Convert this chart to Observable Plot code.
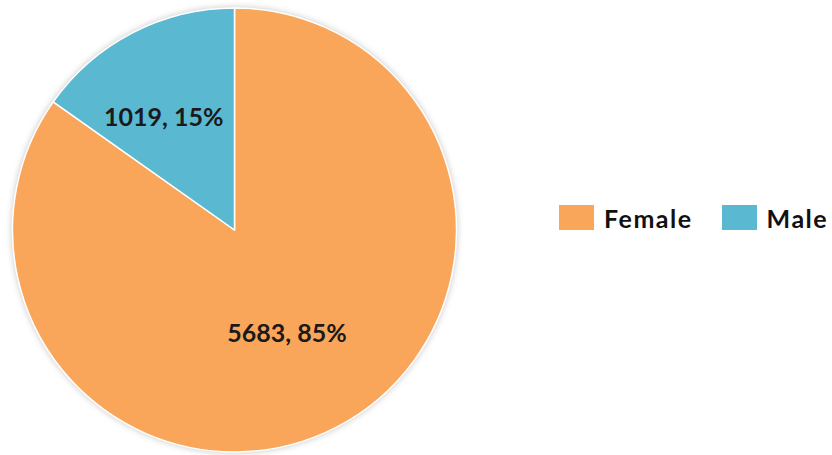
<!DOCTYPE html>
<html>
<head>
<meta charset="utf-8">
<script src="https://cdn.jsdelivr.net/npm/d3@7"></script>
<script src="https://cdn.jsdelivr.net/npm/@observablehq/plot@0.6"></script>
<style>
  html, body { margin: 0; padding: 0; background: #fff; }
  #wrap { position: relative; width: 832px; height: 455px; overflow: hidden; }
  #pie { position: absolute; left: 0; top: 0; }
  #legend { position: absolute; left: 559px; top: 201px; width: 290px; white-space: nowrap; }
  .lg-swatches { display: flex !important; flex-wrap: nowrap !important; font-family: Lato, "Open Sans", sans-serif !important; font-weight: 700; font-size: 25px !important; letter-spacing: 1.5px; color: #111; margin: 0 !important; }
  .lg-swatch { margin-right: 29px !important; }
  .lg-swatch > svg { margin-right: 10px !important; }
</style>
</head>
<body>
<div id="wrap"><div id="pie"></div><div id="legend"></div></div>
<script>
const categories = ["Female", "Male"];
const counts = [5683, 1019];
const percents = [85, 15];
const colors = ["#f9a65a", "#5bb8d1"];

const pie = d3.pie().sort(null).value(d => d.count);
const slices = pie(categories.map((c, i) => ({category: c, count: counts[i], pct: percents[i]})))
  .map(s => ({...s, category: s.data.category, label: `${s.data.count}, ${s.data.pct}%`}));

// label anchor: small slices get a label farther out and nudged toward the slice's wider side
const labelPos = slices.map(s => {
  const small = (s.endAngle - s.startAngle) < Math.PI;
  const mid = small ? s.startAngle + 0.42 * (s.endAngle - s.startAngle) : (s.startAngle + s.endAngle) / 2;
  const r = small ? 0.61 : 0.51;
  return {label: s.label, x: r * Math.sin(mid), y: r * Math.cos(mid)};
});

const pieMark = Plot.dot(slices, {
  x: () => 0, y: () => 0, fill: "category",
  render(index, scales, values) {
    const cx = scales.x(0), cy = scales.y(0);
    const R = scales.x(1) - scales.x(0);
    const arc = d3.arc().innerRadius(0).outerRadius(R);
    const g = d3.create("svg:g")
      .attr("transform", `translate(${cx},${cy})`)
      .style("filter", "drop-shadow(0 0 3px rgba(0,0,0,0.22))");
    for (const i of index) {
      g.append("path")
        .attr("d", arc(slices[i]))
        .attr("fill", values.fill[i])
        .attr("stroke", "#fff")
        .attr("stroke-width", 1.5)
        .attr("stroke-linejoin", "round");
    }
    return g.node();
  }
});

const colorScale = {domain: categories, range: colors};

const chart = Plot.plot({
  width: 470,
  height: 455,
  margin: 0,
  style: {background: "transparent", overflow: "visible"},
  x: {domain: [-1, 1], range: [12.5, 456.5], axis: null},
  y: {domain: [-1, 1], range: [452, 8], axis: null},
  color: colorScale,
  marks: [
    pieMark,
    Plot.text(labelPos, {
      x: "x", y: "y", text: "label", dy: 2.5,
      fill: "#1a1a1a", fontSize: 25, fontWeight: 700,
      fontFamily: "Lato, 'Open Sans', sans-serif",
      letterSpacing: "2.2px"
    })
  ]
});
document.getElementById("pie").append(chart);

const legend = Plot.legend({
  color: colorScale,
  legend: "swatches",
  swatchWidth: 35,
  swatchHeight: 25,
  className: "lg"
});
document.getElementById("legend").append(legend);
</script>
</body>
</html>
